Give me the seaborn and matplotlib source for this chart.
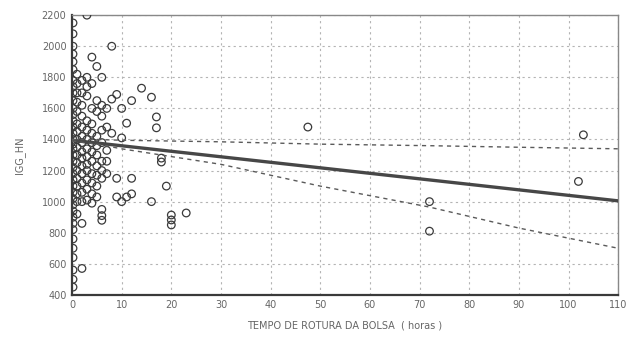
import numpy as np
import pandas as pd
import matplotlib
matplotlib.use("Agg")
import matplotlib.pyplot as plt
import seaborn as sns
from matplotlib.ticker import MultipleLocator

# Observations: rupture time (hours) and IgG values, grouped by hour column
hours_00 = [0.2] * 37
igg_00 = [2150, 2080, 2000, 1950, 1900, 1850, 1780, 1740, 1700, 1650, 1600, 1560,
          1520, 1480, 1440, 1400, 1370, 1340, 1300, 1260, 1220, 1180, 1140, 1100,
          1060, 1020, 980, 940, 900, 860, 820, 760, 700, 640, 560, 500, 450]
hours_01 = [1] * 17
igg_01 = [1820, 1760, 1700, 1640, 1580, 1500, 1450, 1400, 1350, 1300, 1250, 1200,
          1150, 1100, 1050, 1000, 920]
hours_02 = [2] * 16
igg_02 = [1780, 1700, 1620, 1550, 1480, 1420, 1380, 1320, 1280, 1230, 1180, 1120,
          1060, 1000, 860, 570]
hours_03 = [3] * 14
igg_03 = [2200, 1800, 1740, 1680, 1520, 1460, 1400, 1340, 1290, 1240, 1200, 1140,
          1080, 1010]
hours_04 = [4] * 12
igg_04 = [1930, 1760, 1600, 1500, 1440, 1380, 1320, 1260, 1180, 1120, 1050, 990]
hours_05 = [5] * 10
igg_05 = [1870, 1650, 1580, 1420, 1360, 1300, 1230, 1170, 1100, 1030]
hours_06 = [6] * 11
igg_06 = [1800, 1620, 1550, 1460, 1380, 1260, 1200, 1150, 950, 910, 880]
hours_07 = [7] * 5
igg_07 = [1600, 1480, 1330, 1260, 1180]
hours_late = [8, 8, 8, 9, 9, 9, 10, 10, 10, 11, 11, 12, 12, 12, 14, 16, 16, 17, 17,
              18, 18, 19, 20, 20, 20, 23, 47.5, 72, 72, 102, 103]
igg_late = [2000, 1660, 1440, 1690, 1150, 1030, 1600, 1410, 1000, 1505, 1030, 1650,
            1150, 1050, 1730, 1672, 1000, 1545, 1475, 1280, 1255, 1100, 914, 882, 850,
            927, 1480, 1000, 810, 1130, 1430]

# Fitted regression line and its confidence limits
fit_hours = [0, 110]
fit_igg = [1395, 1005]
band_hours = [0, 5, 10, 20, 30, 50, 72, 90, 110]
band_upper = [1400, 1400, 1395, 1390, 1385, 1370, 1360, 1350, 1340]
band_lower = [1390, 1370, 1340, 1290, 1240, 1100, 965, 830, 700]

x_ticks = list(range(0, 111, 10))
y_ticks = list(range(400, 2201, 200))

df = pd.DataFrame({
    "hours": hours_00 + hours_01 + hours_02 + hours_03 + hours_04 + hours_05
             + hours_06 + hours_07 + hours_late,
    "igg": igg_00 + igg_01 + igg_02 + igg_03 + igg_04 + igg_05 + igg_06
           + igg_07 + igg_late,
})

sns.set_theme(style="white")
plt.rcParams["font.family"] = ["DejaVu Sans"]

fig = plt.figure(figsize=(6.34, 3.37), dpi=100)
ax = fig.add_axes([0.1136, 0.125, 0.8614, 0.83])

ink = "#3a3a3a"
ax.grid(True, which="major", color="#b4b4b4", linestyle=(0, (2, 3)), linewidth=0.8)
ax.set_axisbelow(True)

sns.scatterplot(data=df, x="hours", y="igg", ax=ax, marker="o", s=30,
                facecolor="none", edgecolor=ink, linewidth=0.9, zorder=3)
sns.lineplot(x=fit_hours, y=fit_igg, ax=ax, color="#474747", linewidth=2.4, zorder=4)
sns.lineplot(x=band_hours, y=band_upper, ax=ax, color="#5a5a5a", linewidth=1.0,
             linestyle=(0, (3, 3)), zorder=4)
sns.lineplot(x=band_hours, y=band_lower, ax=ax, color="#5a5a5a", linewidth=1.0,
             linestyle=(0, (3, 3)), zorder=4)

ax.set_xlim(0, 110)
ax.set_ylim(400, 2200)
ax.set_xticks(x_ticks)
ax.set_yticks(y_ticks)
ax.xaxis.set_minor_locator(MultipleLocator(2))
ax.yaxis.set_minor_locator(MultipleLocator(40))
ax.tick_params(axis="both", which="major", labelsize=7, labelcolor="#666666",
               direction="in", length=3, color=ink, pad=4)
ax.tick_params(axis="both", which="minor", direction="in", length=2, color=ink)
for side in ["left", "bottom"]:
    ax.spines[side].set_color(ink)
    ax.spines[side].set_linewidth(1.6)
for side in ["right", "top"]:
    ax.spines[side].set_color("#888888")
    ax.spines[side].set_linewidth(1.0)

ax.set_xlabel("TEMPO DE ROTURA DA BOLSA  ( horas )", fontsize=7, color="#666666",
              labelpad=7)
ax.set_ylabel("IGG_HN", fontsize=7, color="#666666", labelpad=12)

fig.savefig("out.png", dpi=100, facecolor="white")
